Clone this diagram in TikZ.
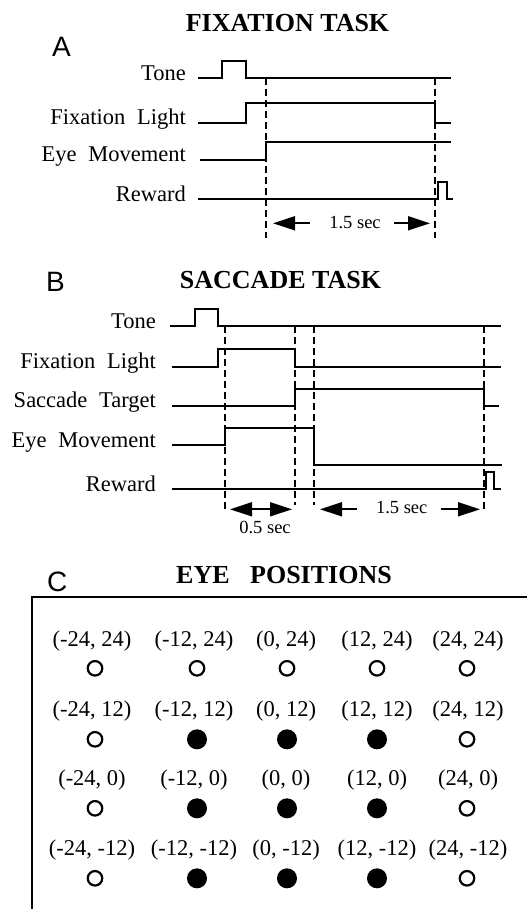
\documentclass[tikz,border=0pt]{standalone}
\usepackage{fontspec}
\setmainfont{Liberation Serif}
\newfontfamily\panelfont{Liberation Sans}
\usetikzlibrary{arrows.meta}
\begin{document}
\begin{tikzpicture}[x=1pt,y=-1pt,
  sig/.style={line width=1.8pt, line join=miter},
  dsh/.style={line width=1.8pt, dash pattern=on 7pt off 4pt},
  arr/.style={line width=1.8pt, -{Triangle[length=22pt,width=14pt]}},
  darr/.style={line width=1.8pt, {Triangle[length=22pt,width=14pt]}-{Triangle[length=22pt,width=14pt]}},
  lbl/.style={anchor=base east, inner sep=0pt, font=\fontsize{22.5}{26}\selectfont},
  ttl/.style={anchor=base, inner sep=0pt, font=\fontsize{26}{30}\selectfont\bfseries},
  pnl/.style={anchor=base west, inner sep=0pt, font=\fontsize{28}{32}\selectfont\panelfont},
  sec/.style={anchor=base, inner sep=0pt, font=\fontsize{18.5}{22}\selectfont},
  poslbl/.style={anchor=base, inner sep=0pt, font=\fontsize{22.5}{26}\selectfont},
  opendot/.style={circle, draw, line width=2.2pt, minimum size=14.5pt, inner sep=0pt},
  fulldot/.style={circle, fill, minimum size=20pt, inner sep=0pt},
  boxline/.style={line width=2.2pt}
]
\useasboundingbox (0,0) rectangle (527,909);

% ---------------- Panel A ----------------
\node[pnl] (pA) at (52,56.7) {A};
\node[ttl] (tA) at (287.5,31.7) {FIXATION TASK};
\node[lbl] (a1) at (186,80.3) {Tone};
\node[lbl] (a2) at (186,124.7) {Fixation\hspace{6pt} Light};
\node[lbl] (a3) at (186,162) {Eye\hspace{6pt} Movement};
\node[lbl] (a4) at (186,201.3) {Reward};
\draw[sig] (198,78.3) -- (221.7,78.3) -- (221.7,61) -- (246,61) -- (246,78.3) -- (451,78.3);
\draw[sig] (198,122.7) -- (246,122.7) -- (246,103.3) -- (435,103.3) -- (435,122.7) -- (451,122.7);
\draw[sig] (200,160) -- (266,160) -- (266,142.3) -- (451,142.3);
\draw[sig] (198,199.3) -- (438,199.3) -- (438,181.7) -- (447,181.7) -- (447,199.3) -- (453,199.3);
\coordinate (dA1) at (266,78.3);
\coordinate (dA2) at (435,78.3);
\draw[dsh] (dA1) -- (266,238);
\draw[dsh] (dA2) -- (435,238);
\coordinate (yA) at (0,223.3);
\node[sec] (sA) at (355,228.5) {1.5 sec};
\draw[arr] ([xshift=-19pt]sA.base west |- yA) -- ([xshift=7pt]dA1 |- yA);
\draw[arr] ([xshift=13pt]sA.base east |- yA) -- ([xshift=-5pt]dA2 |- yA);

% ---------------- Panel B ----------------
\node[pnl] (pB) at (46,291.7) {B};
\node[ttl] (tB) at (280.5,288.3) {SACCADE TASK};
\node[lbl] (b1) at (156,328) {Tone};
\node[lbl] (b2) at (156,368.7) {Fixation\hspace{6pt} Light};
\node[lbl] (b3) at (156,407.7) {Saccade\hspace{6pt} Target};
\node[lbl] (b4) at (156,447) {Eye\hspace{6pt} Movement};
\node[lbl] (b5) at (156,491.3) {Reward};
\draw[sig] (170,326) -- (195,326) -- (195,309) -- (218.3,309) -- (218.3,326) -- (501,326);
\draw[sig] (171.7,366.7) -- (218.3,366.7) -- (218.3,349) -- (295,349) -- (295,366.7) -- (501,366.7);
\draw[sig] (171.7,405.7) -- (295,405.7) -- (295,389) -- (484,389) -- (484,405.7) -- (499,405.7);
\draw[sig] (171.7,445) -- (225,445) -- (225,428.3) -- (314,428.3) -- (314,465) -- (502,465);
\draw[sig] (171.7,489.3) -- (486,489.3) -- (486,471.7) -- (494,471.7) -- (494,489.3) -- (501,489.3);
\coordinate (dB1) at (225,326);
\coordinate (dB2) at (295,326);
\coordinate (dB3) at (314,326);
\coordinate (dB4) at (484,326);
\draw[dsh] (dB1) -- (225,511);
\draw[dsh] (dB2) -- (295,505);
\draw[dsh] (dB3) -- (314,505);
\draw[dsh] (dB4) -- (484,512);
\coordinate (yB) at (0,509.3);
\draw[darr] ([xshift=5pt]dB1 |- yB) -- ([xshift=-3pt]dB2 |- yB);
\node[sec] (sB1) at (265,533) {0.5 sec};
\node[sec] (sB2) at (401.7,513.3) {1.5 sec};
\draw[arr] ([xshift=-19pt]sB2.base west |- yB) -- ([xshift=6pt]dB3 |- yB);
\draw[arr] ([xshift=13pt]sB2.base east |- yB) -- ([xshift=-4pt]dB4 |- yB);

% ---------------- Panel C ----------------
\node[pnl] (pC) at (47,591.7) {C};
\node[ttl] (tC) at (284,583.3) {EYE\hspace{14pt} POSITIONS};
\draw[boxline] (32.3,909) -- (32.3,597.3) -- (527,597.3);
\foreach \cx/\lx/\px/\isf [count=\i] in {-24/92/95/0, -12/194/197/1, 0/286/287/1, 12/377/377/1, 24/468/467/0}{
  \foreach \ry/\ly/\py [count=\j] in {24/646.7/668.3, 12/716.7/739.3, 0/785/808.3, -12/855/878.3}{
    \node[poslbl] (L\i\j) at (\lx,\ly) {(\cx, \ry)};
    \ifnum\ry=24 \def\st{0}\else \edef\st{\isf}\fi
    \ifnum\st=1
      \node[fulldot] (P\i\j) at (\px,\py) {};
    \else
      \node[opendot] (P\i\j) at (\px,\py) {};
    \fi
  }
}
\end{tikzpicture}
\end{document}
